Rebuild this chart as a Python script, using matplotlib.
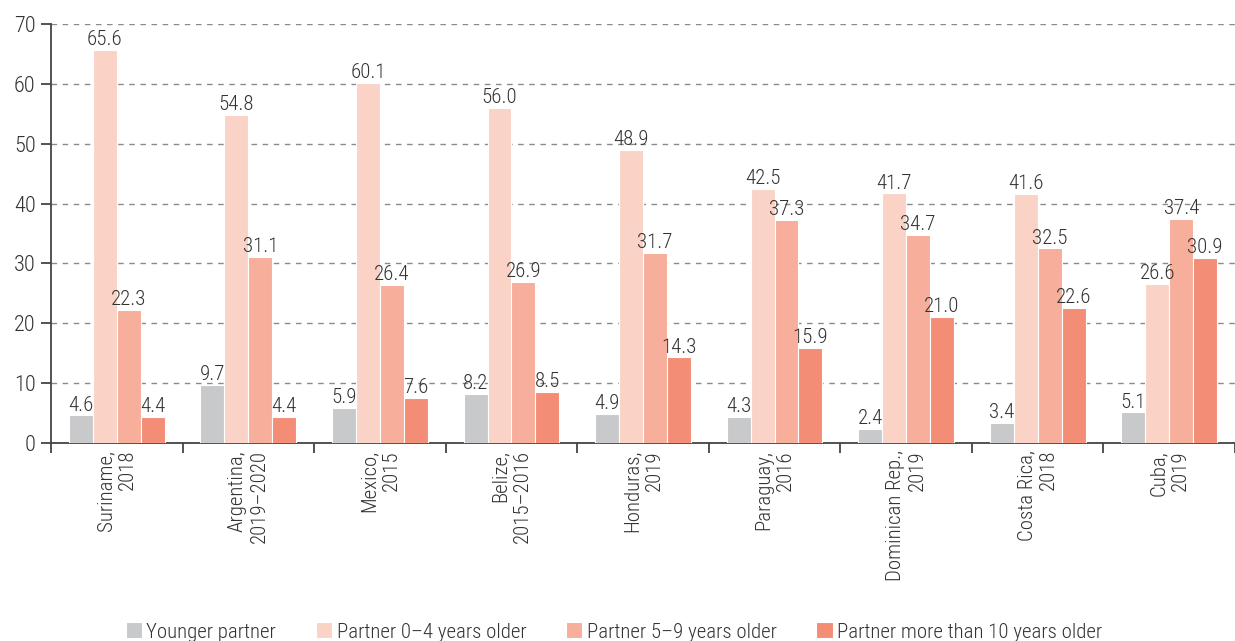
import matplotlib
matplotlib.use("Agg")
import matplotlib.pyplot as plt
import numpy as np

plt.rcParams['font.family'] = ['Roboto Condensed', 'Barlow Semi Condensed', 'DejaVu Sans']
plt.rcParams['font.weight'] = 300

categories = ["Suriname,\n2018", "Argentina,\n2019\u20132020", "Mexico,\n2015", "Belize,\n2015\u20132016",
              "Honduras,\n2019", "Paraguay,\n2016", "Dominican Rep.,\n2019", "Costa Rica,\n2018", "Cuba,\n2019"]
series_names = ["Younger partner", "Partner 0\u20134 years older", "Partner 5\u20139 years older",
                "Partner more than 10 years older"]
younger = [4.6, 9.7, 5.9, 8.2, 4.9, 4.3, 2.4, 3.4, 5.1]
older_0_4 = [65.6, 54.8, 60.1, 56.0, 48.9, 42.5, 41.7, 41.6, 26.6]
older_5_9 = [22.3, 31.1, 26.4, 26.9, 31.7, 37.3, 34.7, 32.5, 37.4]
older_10 = [4.4, 4.4, 7.6, 8.5, 14.3, 15.9, 21.0, 22.6, 30.9]
colors = ["#c8c9cb", "#fad3c6", "#f7ae9a", "#f38d76"]

fig = plt.figure(figsize=(12.35, 6.41), dpi=100)
ax = fig.add_axes([51/1235, 1-443/641, 1-51/1235, (443-24)/641])

x = np.arange(len(categories))
w = 0.182
data = [younger, older_0_4, older_5_9, older_10]
txtc = "#333333"
for i, (vals, c, name) in enumerate(zip(data, colors, series_names)):
    pos = x + (i - 1.5) * w
    ax.bar(pos, vals, w, color=c, edgecolor="white", linewidth=0.8, label=name, zorder=3)
    for p, v in zip(pos, vals):
        ax.annotate(f"{v:.1f}", (p, v), xytext=(0, 3.5), textcoords="offset points",
                    ha="center", va="baseline", fontsize=15, color=txtc, zorder=4)

ax.set_ylim(0, 70)
ax.set_xlim(-0.5, len(categories) - 0.5)
ax.set_yticks(range(0, 71, 10))
ax.yaxis.grid(True, linestyle=(0, (4, 4)), color="#8a8a8a", linewidth=1.0, zorder=0)
ax.set_axisbelow(True)
for s in ["top", "right"]:
    ax.spines[s].set_visible(False)
for s in ["left", "bottom"]:
    ax.spines[s].set_color("#444444")
    ax.spines[s].set_linewidth(1.3)

ax.set_xticks(np.arange(-0.5, len(categories), 1.0))
ax.set_xticklabels([])
ax.set_xticks(x, minor=True)
ax.set_xticklabels(categories, minor=True, rotation=90, fontsize=15, color=txtc)
for t in ax.get_xticklabels(minor=True):
    t.set_multialignment("right")
ax.tick_params(axis="x", which="minor", length=0, pad=5)
ax.tick_params(axis="x", which="major", length=7, width=1.3, color="#444444")
ax.tick_params(axis="y", length=7, width=1.3, color="#444444", labelsize=16, labelcolor=txtc, pad=4)

fig.legend(loc="center", bbox_to_anchor=(0.497, 0.014), ncol=4, frameon=False, fontsize=15,
           handlelength=0.8, handleheight=0.8, handletextpad=0.2, columnspacing=1.9, labelcolor=txtc)

fig.savefig("out.png", dpi=100)
